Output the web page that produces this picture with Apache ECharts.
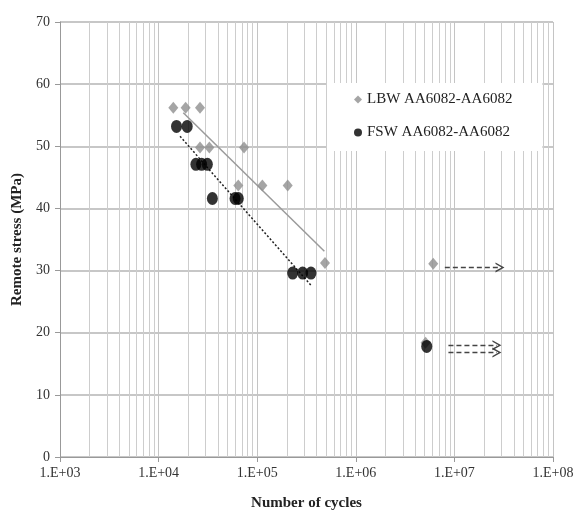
<!DOCTYPE html>
<html>
<head>
<meta charset="utf-8">
<script src="https://cdn.jsdelivr.net/npm/echarts@6/dist/echarts.min.js"></script>
<style>
  html, body { margin: 0; padding: 0; background: #fff; }
  #chart { width: 587px; height: 516px; }
</style>
</head>
<body>
<div id="chart"></div>
<script>
// Values
const lbwCycles = [14100, 18800, 26300, 26300, 32700, 64300, 73500, 112800, 203900, 487000, 6100000, 5100000];
const lbwStress = [56.2, 56.2, 56.2, 49.8, 49.8, 43.7, 49.8, 43.7, 43.7, 31.2, 31.1, 18.4];

const fswCycles = [15200, 19500, 23900, 27300, 31200, 35100, 59600, 64300, 229000, 289000, 351000, 5240000];
const fswStress = [53.2, 53.2, 47.1, 47.1, 47.1, 41.6, 41.6, 41.6, 29.6, 29.6, 29.6, 17.8];

// trend lines (end points)
const lbwTrendCycles = [17800, 480000];
const lbwTrendStress = [55.4, 33.1];
const fswTrendCycles = [16500, 352000];
const fswTrendStress = [51.6, 27.6];

// run-out arrows
const runoutStart = [8.0e6, 8.7e6, 8.7e6];
const runoutEnd = [2.9e7, 2.7e7, 2.7e7];
const runoutStress = [30.5, 18.0, 16.8];

// axis ticks
const decades = [1e3, 1e4, 1e5, 1e6, 1e7];
const minorSteps = [2, 3, 4, 5, 6, 7, 8, 9];

const LBW = 'LBW AA6082-AA6082';
const FSW = 'FSW AA6082-AA6082';
const serif = 'Liberation Serif';

const zip = (xs, ys) => xs.map((x, i) => [x, ys[i]]);

// log-spaced minor grid lines (ECharts' own log minor ticks are evenly spaced)
const minorLines = [];
decades.forEach(d => minorSteps.forEach(m => minorLines.push({ xAxis: d * m })));

const arrowLines = runoutStress.map((s, i) => [
  { coord: [runoutStart[i], s] },
  { coord: [runoutEnd[i], s] }
]);

const chart = echarts.init(document.getElementById('chart'));

chart.setOption({
  animation: false,
  backgroundColor: '#fff',
  grid: { left: 60, right: 34, top: 22, bottom: 57 },
  legend: {
    data: [
      { name: LBW, icon: 'diamond' },
      { name: FSW, icon: 'circle' }
    ],
    orient: 'vertical',
    left: 327,
    top: 83,
    z: 20,
    itemWidth: 8,
    itemHeight: 8,
    itemGap: 18,
    padding: [9, 30, 11, 27],
    backgroundColor: '#fff',
    textStyle: { fontFamily: serif, fontSize: 15, color: '#222' }
  },
  xAxis: {
    type: 'log',
    logBase: 10,
    min: 1e3,
    max: 1e8,
    name: 'Number of cycles',
    nameLocation: 'middle',
    nameGap: 39,
    nameTextStyle: { fontFamily: serif, fontSize: 15, fontWeight: 'bold', color: '#222' },
    axisLine: { lineStyle: { color: '#999', width: 1 } },
    axisTick: { show: true, length: 5, lineStyle: { color: '#999' } },
    axisLabel: {
      fontFamily: serif,
      fontSize: 14,
      color: '#333',
      margin: 9,
      formatter: v => {
        const e = Math.round(Math.log10(v));
        return '1.E+' + (e < 10 ? '0' + e : e);
      }
    },
    splitLine: { show: true, lineStyle: { color: '#c4c4c4', width: 1 } }
  },
  yAxis: {
    type: 'value',
    min: 0,
    max: 70,
    interval: 10,
    name: 'Remote stress (MPa)',
    nameLocation: 'middle',
    nameGap: 28,
    nameTextStyle: { fontFamily: serif, fontSize: 15, fontWeight: 'bold', color: '#222' },
    axisLine: { show: true, lineStyle: { color: '#999', width: 1 } },
    axisTick: { show: true, length: 5, lineStyle: { color: '#999' } },
    axisLabel: { fontFamily: serif, fontSize: 14, color: '#333', margin: 10 },
    splitLine: { show: true, lineStyle: { color: '#b4b4b4', width: 1.5 } }
  },
  series: [
    {
      // minor grid
      type: 'line',
      data: [],
      silent: true,
      z: 1,
      markLine: {
        silent: true,
        z: 1,
        symbol: 'none',
        label: { show: false },
        lineStyle: { color: '#cdcdcd', width: 1, type: 'solid' },
        data: minorLines
      }
    },
    {
      // run-out arrows
      type: 'line',
      data: [],
      silent: true,
      z: 3,
      markLine: {
        silent: true,
        symbol: ['none', 'path://M5,0 L10,10 L8.4,10 L5,3.2 L1.6,10 L0,10 Z'],
        symbolSize: [10, 9],
        label: { show: false },
        lineStyle: { color: '#444', width: 1.4, type: [5, 3] },
        data: arrowLines
      }
    },
    {
      name: 'LBW trend',
      type: 'line',
      data: zip(lbwTrendCycles, lbwTrendStress),
      symbol: 'none',
      silent: true,
      z: 3,
      lineStyle: { color: '#9a9a9a', width: 1.5 }
    },
    {
      name: 'FSW trend',
      type: 'line',
      data: zip(fswTrendCycles, fswTrendStress),
      symbol: 'none',
      silent: true,
      z: 3,
      lineStyle: { color: '#222', width: 1.5, type: [2, 2] }
    },
    {
      name: LBW,
      type: 'scatter',
      data: zip(lbwCycles, lbwStress),
      symbol: 'diamond',
      symbolSize: [10, 12],
      z: 4,
      itemStyle: { color: '#8e8e8e' }
    },
    {
      name: FSW,
      type: 'scatter',
      data: zip(fswCycles, fswStress),
      symbol: 'circle',
      symbolSize: [11, 13],
      z: 5,
      itemStyle: { color: '#000' }
    }
  ]
});
</script>
</body>
</html>
